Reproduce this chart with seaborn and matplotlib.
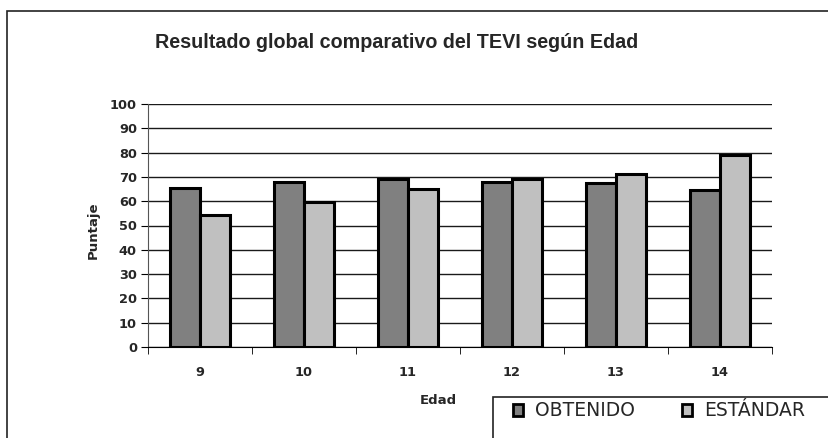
import pandas as pd
import seaborn as sns
import matplotlib.pyplot as plt
from matplotlib.patches import Rectangle, Patch

edades = ["9", "10", "11", "12", "13", "14"]
obtenido = [65.3, 67.9, 69.1, 67.8, 67.4, 64.6]
estandar = [54.3, 59.8, 65.0, 69.1, 71.3, 79.0]
series = ["OBTENIDO", "ESTÁNDAR"]
colores = ["#808080", "#c0c0c0"]

df = pd.DataFrame({
    "Edad": edades * 2,
    "Puntaje": obtenido + estandar,
    "Serie": [series[0]] * len(edades) + [series[1]] * len(edades),
})

sns.set_style("white")
plt.rcParams["font.family"] = ["DejaVu Sans"]

W, H = 829, 438
fig = plt.figure(figsize=(W / 100, H / 100), dpi=100)
ax = fig.add_axes([148 / W, 91 / H, 624 / W, 243 / H])

sns.barplot(data=df, x="Edad", y="Puntaje", hue="Serie", palette=colores,
            width=0.58, edgecolor="black", linewidth=2.2, ax=ax, legend=False,
            saturation=1, zorder=3)

ax.set_ylim(0, 100)
ax.set_xlim(-0.5, len(edades) - 0.5)
ax.set_yticks(range(0, 101, 10))
ax.yaxis.grid(True, color="#1a1a1a", linewidth=1, zorder=0)
ax.set_axisbelow(True)

for s in ["top", "right"]:
    ax.spines[s].set_visible(False)
ax.spines["left"].set_color("#555555")
ax.spines["bottom"].set_color("black")

ax.set_xticks([i + 0.5 for i in range(-1, len(edades))], minor=True)
ax.tick_params(axis="x", which="major", length=0, pad=14)
ax.tick_params(axis="x", which="minor", length=5, direction="out", color="black", bottom=True)
ax.tick_params(axis="y", length=5, direction="out", color="black", left=True, pad=3)
for lab in ax.get_xticklabels() + ax.get_yticklabels():
    lab.set_fontweight("bold")
    lab.set_fontsize(9.3)

ax.set_xlabel("Edad", fontsize=9.5, fontweight="bold", va="center")
ax.xaxis.set_label_coords((438 - 148) / 624, (347 - 400) / 243)
ax.set_ylabel("Puntaje", fontsize=9.5, fontweight="bold", va="center")
ax.yaxis.set_label_coords((93 - 148) / 624, (347 - 230) / 243)

fig.text(397 / W, 1 - 42 / H, "Resultado global comparativo del TEVI según Edad",
         ha="center", va="center", fontsize=14.2, fontweight="bold",
         family="Liberation Sans")

# border around the chart (only left and top visible)
fig.patches.append(Rectangle((7 / W, -0.1), 1.2, 1.1 - 11 / H, transform=fig.transFigure,
                             fill=False, edgecolor="#222222", linewidth=1.2))
# legend box
fig.patches.append(Rectangle((493 / W, -0.1), 1.2, 0.1 + (H - 397) / H, transform=fig.transFigure,
                             fill=False, edgecolor="#222222", linewidth=1.2))

handles = [Patch(facecolor=c, edgecolor="black", linewidth=2) for c in colores]
leg = fig.legend(handles, series, loc="center left", bbox_to_anchor=(513 / W, 1 - 411 / H),
                 ncol=2, frameon=False, fontsize=13.5, handlelength=0.55,
                 handleheight=0.6, handletextpad=0.64, columnspacing=2.5,
                 borderpad=0, borderaxespad=0)

fig.savefig("out.png", dpi=100)
